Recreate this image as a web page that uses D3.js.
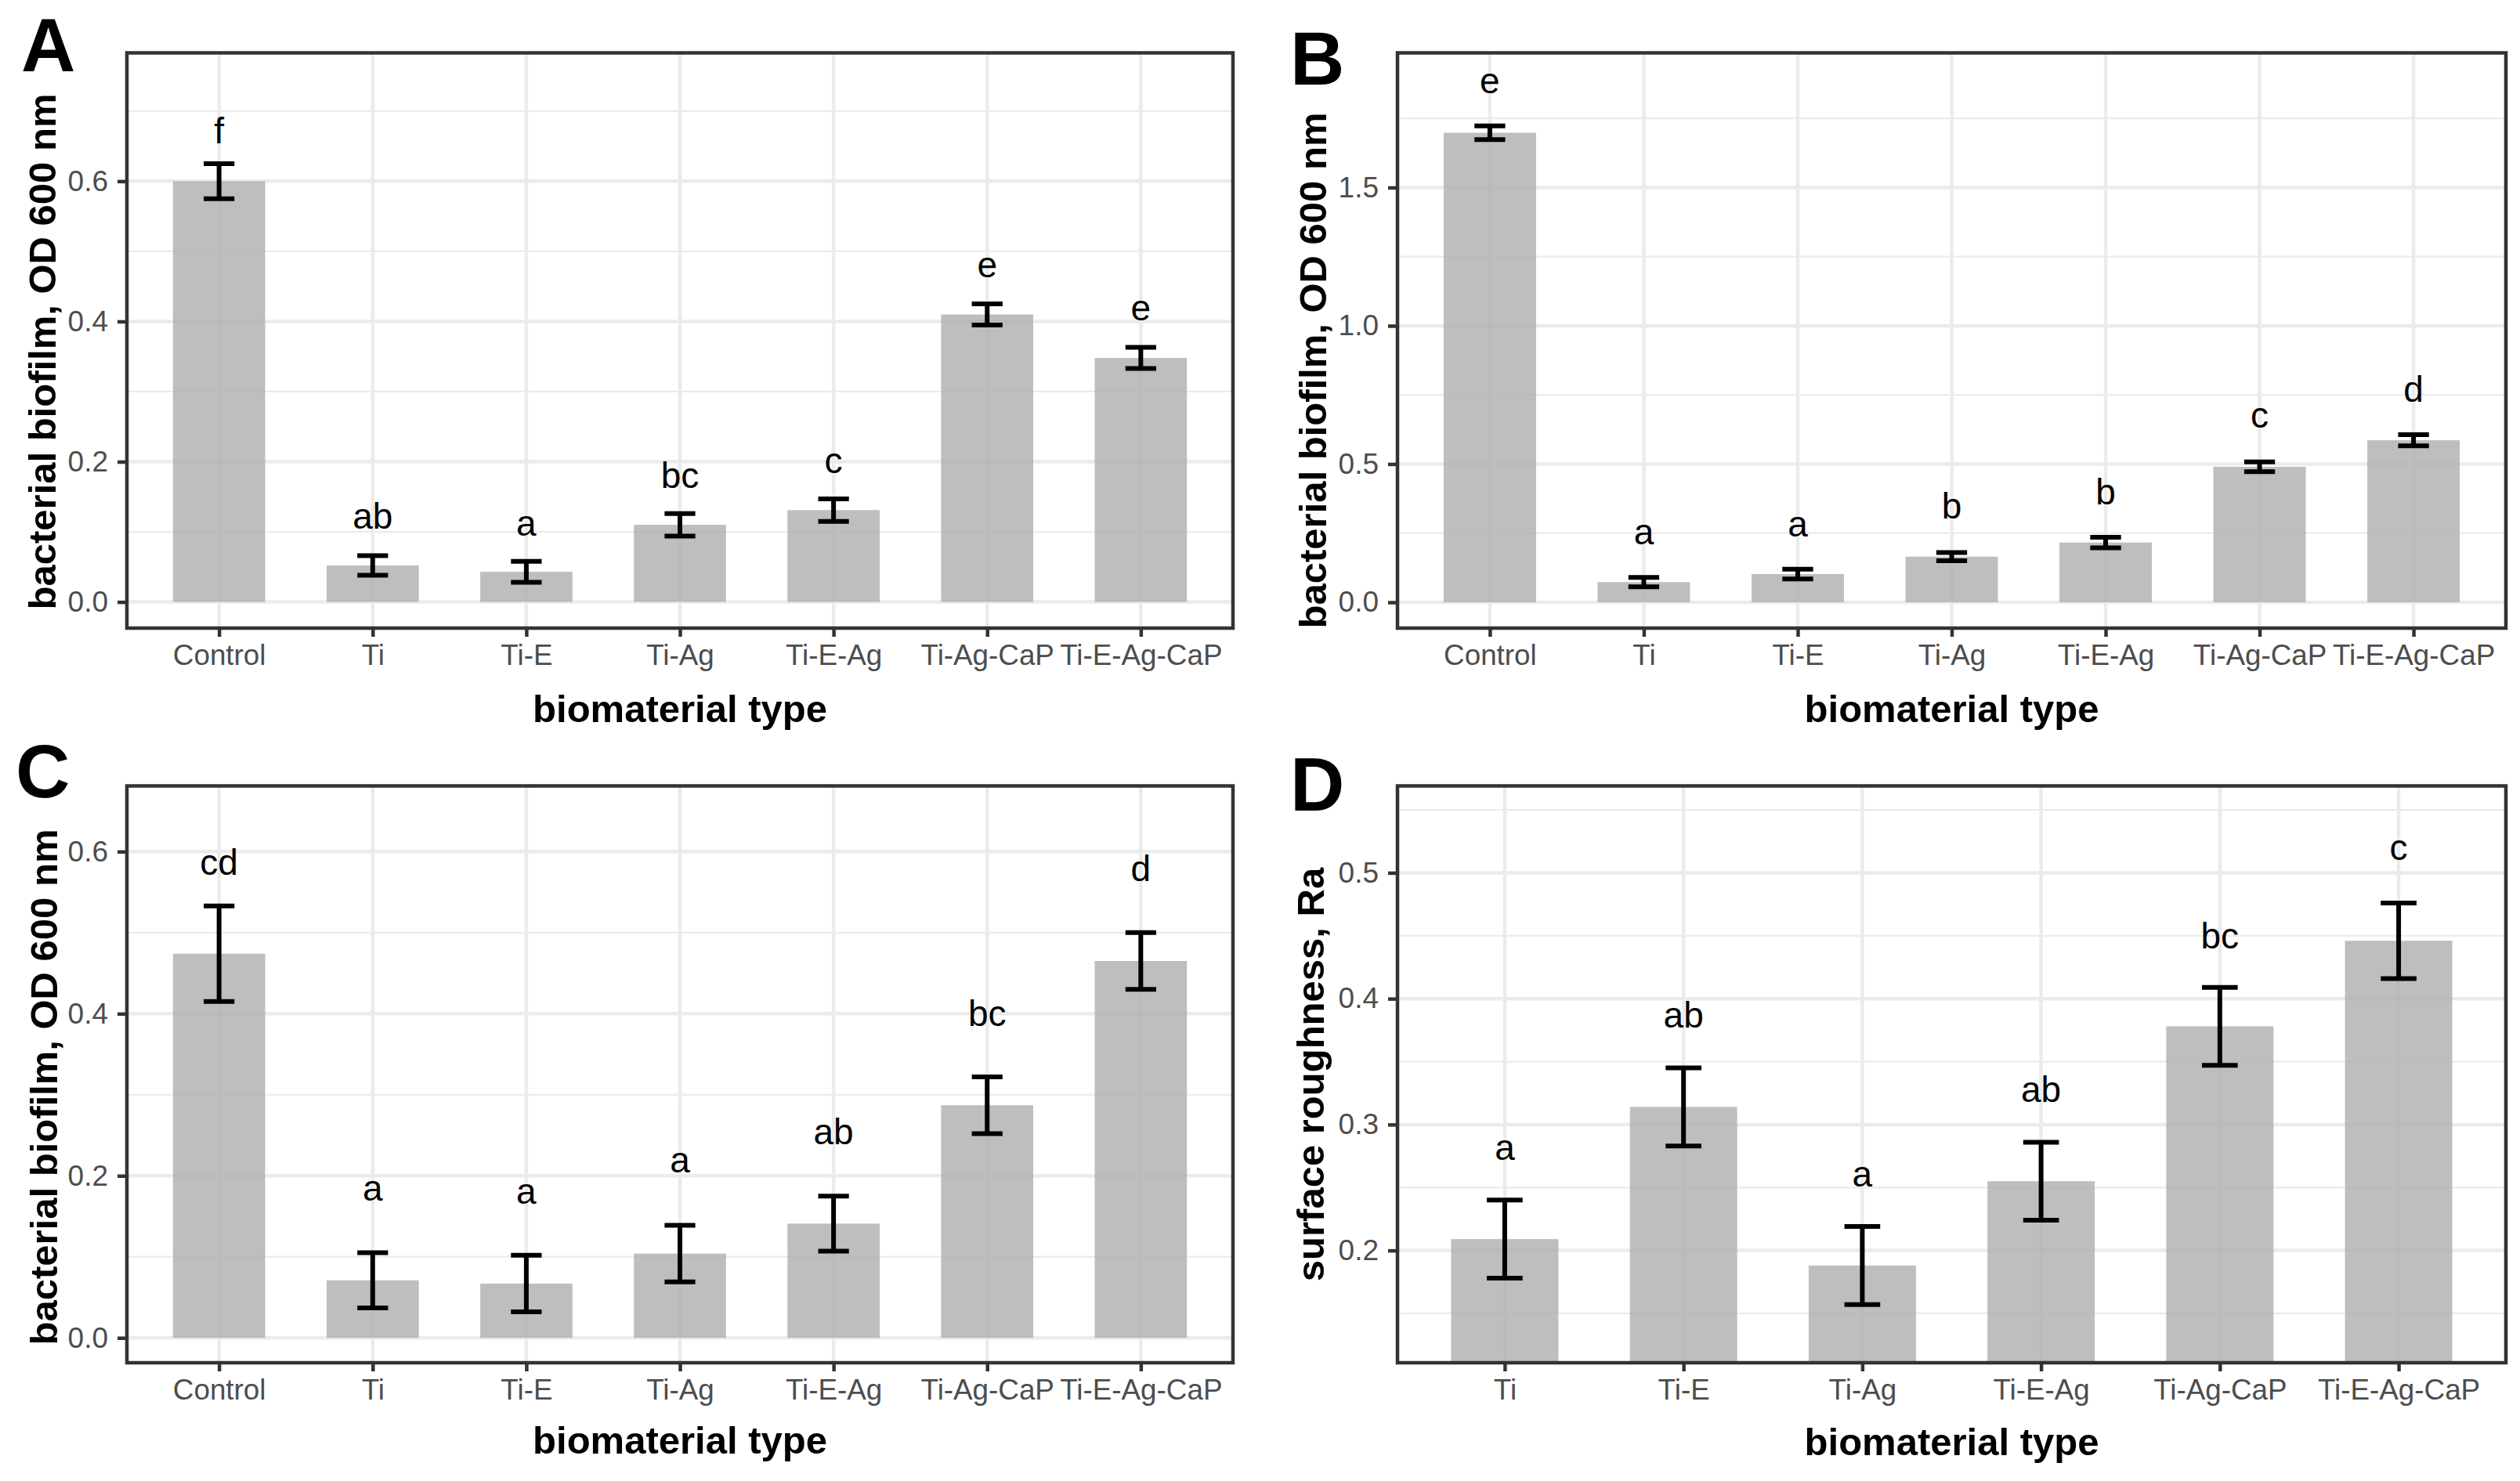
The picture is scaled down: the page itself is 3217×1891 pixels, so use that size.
<!DOCTYPE html>
<html>
<head>
<meta charset="utf-8">
<script src="https://cdn.jsdelivr.net/npm/d3@7"></script>
<style>
  html, body { margin: 0; padding: 0; background: #ffffff; }
  svg { display: block; }
</style>
</head>
<body>
<svg id="chart" width="3217" height="1891"></svg>
<script>
// ---------------- DATA ----------------
const catsABC = ["Control", "Ti", "Ti-E", "Ti-Ag", "Ti-E-Ag", "Ti-Ag-CaP", "Ti-E-Ag-CaP"];
const catsD   = ["Ti", "Ti-E", "Ti-Ag", "Ti-E-Ag", "Ti-Ag-CaP", "Ti-E-Ag-CaP"];

// Panel A
const meanA    = [0.600, 0.052, 0.043, 0.110, 0.131, 0.410, 0.348];
const errA     = [0.025, 0.014, 0.015, 0.016, 0.016, 0.015, 0.015];
const lettersA = ["f", "ab", "a", "bc", "c", "e", "e"];
const labelYA  = [0.654, 0.104, 0.095, 0.163, 0.184, 0.463, 0.402];
const ticksA   = [0.0, 0.2, 0.4, 0.6];
const minorA   = [0.1, 0.3, 0.5, 0.7];

// Panel B
const meanB    = [1.698, 0.073, 0.102, 0.165, 0.216, 0.490, 0.586];
const errB     = [0.025, 0.017, 0.018, 0.015, 0.019, 0.018, 0.020];
const lettersB = ["e", "a", "a", "b", "b", "c", "d"];
const labelYB  = [1.84, 0.21, 0.239, 0.302, 0.354, 0.632, 0.726];
const ticksB   = [0.0, 0.5, 1.0, 1.5];
const minorB   = [0.25, 0.75, 1.25, 1.75];

// Panel C
const meanC    = [0.474, 0.071, 0.067, 0.104, 0.141, 0.287, 0.465];
const errC     = [0.059, 0.034, 0.035, 0.035, 0.034, 0.035, 0.035];
const lettersC = ["cd", "a", "a", "a", "ab", "bc", "d"];
const labelYC  = [0.571, 0.169, 0.165, 0.204, 0.239, 0.385, 0.564];
const ticksC   = [0.0, 0.2, 0.4, 0.6];
const minorC   = [0.1, 0.3, 0.5];

// Panel D
const meanD    = [0.209, 0.314, 0.188, 0.255, 0.378, 0.446];
const errD     = [0.031, 0.031, 0.031, 0.031, 0.031, 0.030];
const lettersD = ["a", "ab", "a", "ab", "bc", "c"];
const labelYD  = [0.272, 0.377, 0.251, 0.318, 0.440, 0.510];
const ticksD   = [0.2, 0.3, 0.4, 0.5];
const minorD   = [0.15, 0.25, 0.35, 0.45, 0.55];

const xTitle   = "biomaterial type";
const yTitleOD = "bacterial biofilm, OD 600 nm";
const yTitleRa = "surface roughness, Ra";

// ---------------- LAYOUT ----------------
const panels = [
  { tag: "A", cats: catsABC, mean: meanA, err: errA, letters: lettersA, labelY: labelYA,
    ticks: ticksA, minor: minorA, domain: [-0.0373, 0.783], yTitle: yTitleOD,
    x0: 162, x1: 1574, y0: 67.5, y1: 802, tagX: 27, tagY: 91, ytX: 71, ytY: 449, xtOff: 120 },
  { tag: "B", cats: catsABC, mean: meanB, err: errB, letters: lettersB, labelY: labelYB,
    ticks: ticksB, minor: minorB, domain: [-0.0935, 1.987], yTitle: yTitleOD,
    x0: 1784, x1: 3199, y0: 67.5, y1: 802, tagX: 1647, tagY: 108, ytX: 1693, ytY: 473, xtOff: 120 },
  { tag: "C", cats: catsABC, mean: meanC, err: errC, letters: lettersC, labelY: labelYC,
    ticks: ticksC, minor: minorC, domain: [-0.0307, 0.681], yTitle: yTitleOD,
    x0: 162, x1: 1574, y0: 1003.5, y1: 1740, tagX: 20, tagY: 1018, ytX: 73, ytY: 1388, xtOff: 116 },
  { tag: "D", cats: catsD, mean: meanD, err: errD, letters: lettersD, labelY: labelYD,
    ticks: ticksD, minor: minorD, domain: [0.1108, 0.569], yTitle: yTitleRa,
    x0: 1784, x1: 3199, y0: 1003.5, y1: 1740, tagX: 1647, tagY: 1035, ytX: 1690, ytY: 1372, xtOff: 118 }
];

const FONT = "'Liberation Sans', Arial, Helvetica, sans-serif";
const GRID = "#EBEBEB";
const DARK = "#333333";
const LW = 4.5;

const svg = d3.select("#chart");
svg.append("rect").attr("width", 3217).attr("height", 1891).attr("fill", "#ffffff");

panels.forEach((p, pi) => {
  const x = d3.scalePoint().domain(p.cats).range([p.x0, p.x1]).padding(0.6);
  const step = x.step();
  const y = d3.scaleLinear().domain(p.domain).range([p.y1, p.y0]);
  const rows = p.cats.map((c, i) => ({ cat: c, mean: p.mean[i], err: p.err[i], letter: p.letters[i], ly: p.labelY[i] }));

  const clipId = "clip" + pi;
  svg.append("clipPath").attr("id", clipId)
    .append("rect").attr("x", p.x0).attr("y", p.y0).attr("width", p.x1 - p.x0).attr("height", p.y1 - p.y0);

  const g = svg.append("g");
  const inner = g.append("g").attr("clip-path", `url(#${clipId})`);

  inner.append("rect").attr("x", p.x0).attr("y", p.y0).attr("width", p.x1 - p.x0).attr("height", p.y1 - p.y0).attr("fill", "#fff");

  inner.selectAll(".minor").data(p.minor).enter().append("line")
    .attr("x1", p.x0).attr("x2", p.x1).attr("y1", d => y(d)).attr("y2", d => y(d))
    .attr("stroke", GRID).attr("stroke-width", LW / 2);
  inner.selectAll(".major").data(p.ticks).enter().append("line")
    .attr("x1", p.x0).attr("x2", p.x1).attr("y1", d => y(d)).attr("y2", d => y(d))
    .attr("stroke", GRID).attr("stroke-width", LW);
  inner.selectAll(".vgrid").data(p.cats).enter().append("line")
    .attr("x1", d => x(d)).attr("x2", d => x(d)).attr("y1", p.y0).attr("y2", p.y1)
    .attr("stroke", GRID).attr("stroke-width", LW);

  inner.selectAll(".bar").data(rows).enter().append("rect")
    .attr("x", d => x(d.cat) - step * 0.3)
    .attr("width", step * 0.6)
    .attr("y", d => y(d.mean))
    .attr("height", d => y(0) - y(d.mean))
    .attr("fill", "#aeaeae").attr("fill-opacity", 0.8);

  const EW = 6;
  const eb = inner.selectAll(".eb").data(rows).enter().append("g");
  eb.append("line")
    .attr("x1", d => x(d.cat)).attr("x2", d => x(d.cat))
    .attr("y1", d => y(d.mean + d.err)).attr("y2", d => y(d.mean - d.err))
    .attr("stroke", "#000").attr("stroke-width", EW);
  eb.append("line")
    .attr("x1", d => x(d.cat) - step * 0.1).attr("x2", d => x(d.cat) + step * 0.1)
    .attr("y1", d => y(d.mean + d.err)).attr("y2", d => y(d.mean + d.err))
    .attr("stroke", "#000").attr("stroke-width", EW);
  eb.append("line")
    .attr("x1", d => x(d.cat) - step * 0.1).attr("x2", d => x(d.cat) + step * 0.1)
    .attr("y1", d => y(d.mean - d.err)).attr("y2", d => y(d.mean - d.err))
    .attr("stroke", "#000").attr("stroke-width", EW);

  inner.selectAll(".lab").data(rows).enter().append("text")
    .attr("x", d => x(d.cat)).attr("y", d => y(d.ly))
    .attr("text-anchor", "middle")
    .attr("font-family", FONT).attr("font-size", 46).attr("fill", "#000")
    .text(d => d.letter);

  g.append("rect").attr("x", p.x0).attr("y", p.y0).attr("width", p.x1 - p.x0).attr("height", p.y1 - p.y0)
    .attr("fill", "none").attr("stroke", DARK).attr("stroke-width", LW);

  const yAxis = d3.axisLeft(y).tickValues(p.ticks).tickFormat(d3.format(".1f")).tickSize(12).tickPadding(12);
  const ya = g.append("g").attr("transform", `translate(${p.x0},0)`).call(yAxis);
  ya.select(".domain").remove();
  ya.selectAll(".tick line").attr("stroke", DARK).attr("stroke-width", LW);
  ya.selectAll(".tick text").attr("font-family", FONT).attr("font-size", 37).attr("fill", "#4D4D4D");

  const xAxis = d3.axisBottom(x).tickSize(11).tickPadding(10);
  const xa = g.append("g").attr("transform", `translate(0,${p.y1})`).call(xAxis);
  xa.select(".domain").remove();
  xa.selectAll(".tick line").attr("stroke", DARK).attr("stroke-width", LW);
  xa.selectAll(".tick text").attr("font-family", FONT).attr("font-size", 36.8).attr("fill", "#4D4D4D");

  g.append("text").attr("x", (p.x0 + p.x1) / 2).attr("y", p.y1 + p.xtOff)
    .attr("text-anchor", "middle").attr("font-family", FONT).attr("font-weight", "bold")
    .attr("font-size", 49).attr("fill", "#000").text(xTitle);
  g.append("text").attr("transform", `translate(${p.ytX},${p.ytY}) rotate(-90)`)
    .attr("text-anchor", "middle").attr("font-family", FONT).attr("font-weight", "bold")
    .attr("font-size", 49).attr("fill", "#000").text(p.yTitle);

  g.append("text").attr("x", p.tagX).attr("y", p.tagY)
    .attr("font-family", FONT).attr("font-weight", "bold").attr("font-size", 96).attr("fill", "#000")
    .text(p.tag);
});
</script>
</body>
</html>
